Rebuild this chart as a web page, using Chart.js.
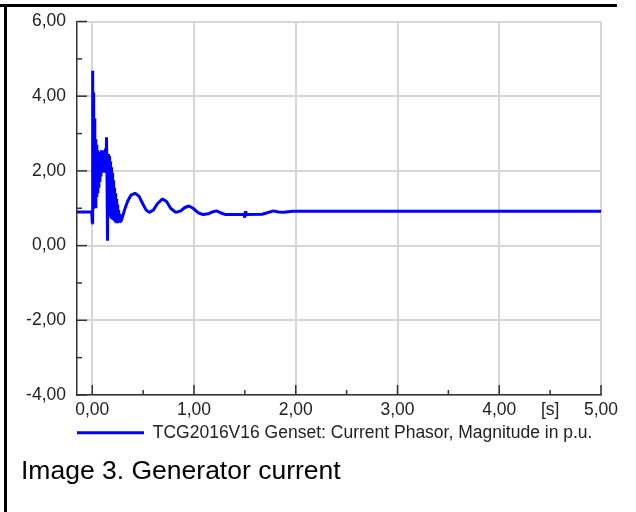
<!DOCTYPE html>
<html>
<head>
<meta charset="utf-8">
<title>Generator current</title>
<script src="https://cdn.jsdelivr.net/npm/chart.js@4.4.1/dist/chart.umd.min.js"></script>
<style>
    html, body { margin: 0; padding: 0; background: #fff; }
    #wrap { position: relative; width: 636px; height: 512px; overflow: hidden; }
    #chart { position: absolute; left: 0; top: 0; }
    .edge-top { position: absolute; left: 0; top: 4px; width: 617px; height: 3px; background: #000; }
    .edge-left { position: absolute; left: 4px; top: 4px; width: 3px; height: 508px; background: #000; }
    #caption {
        position: absolute; left: 21px; top: 455px;
        font-family: 'Liberation Sans', Arial, sans-serif;
        font-size: 26.5px; line-height: 30px; color: #000; white-space: nowrap;
    }
</style>
</head>
<body>
<div id="wrap">
    <canvas id="chart" width="636" height="512"></canvas>
    <div class="edge-top"></div>
    <div class="edge-left"></div>
    <div id="caption">Image 3. Generator current</div>
</div>
<script>
const seriesLabel = 'TCG2016V16 Genset: Current Phasor, Magnitude in p.u.';

// time in s
const times = [
    -0.15, -0.005, 0.000, 0.004, 0.008, 0.012, 0.016, 0.020, 0.025, 0.030,
    0.035, 0.040, 0.045, 0.050, 0.055, 0.060, 0.065, 0.070, 0.075, 0.080,
    0.085, 0.090, 0.095, 0.100, 0.105, 0.110, 0.115, 0.120, 0.125, 0.130,
    0.135, 0.140, 0.145, 0.150, 0.155, 0.160, 0.165, 0.170, 0.175, 0.180,
    0.185, 0.190, 0.195, 0.200, 0.205, 0.210, 0.215, 0.220, 0.225, 0.230,
    0.235, 0.240, 0.245, 0.250, 0.255, 0.260, 0.265, 0.270, 0.280, 0.290,
    0.300, 0.320, 0.350, 0.380, 0.420, 0.460, 0.500, 0.530, 0.560, 0.600,
    0.640, 0.690, 0.730, 0.770, 0.820, 0.870, 0.910, 0.950, 0.990, 1.040,
    1.090, 1.140, 1.180, 1.220, 1.260, 1.310, 1.450, 1.490, 1.500, 1.505,
    1.510, 1.670, 1.720, 1.780, 1.830, 1.880, 1.970, 5.000
];

// current magnitude in p.u.
const current = [
    0.90, 0.90, 0.60, 4.68, 1.00, 4.10, 1.20, 3.40, 1.10, 2.85,
    1.00, 2.70, 1.30, 2.55, 1.40, 2.50, 1.55, 2.45, 1.70, 2.50,
    1.85, 2.55, 2.00, 2.55, 1.95, 2.50, 2.10, 2.55, 2.15, 2.60,
    1.95, 2.90, 1.80, 0.13, 2.45, 0.80, 2.40, 0.75, 2.25, 0.75,
    2.10, 0.72, 1.95, 0.70, 1.75, 0.68, 1.55, 0.65, 1.40, 0.62,
    1.25, 0.60, 1.10, 0.60, 0.95, 0.62, 0.85, 0.64, 0.65, 0.70,
    0.80, 0.98, 1.20, 1.35, 1.40, 1.32, 1.10, 0.95, 0.89, 0.95,
    1.12, 1.25, 1.18, 1.00, 0.89, 0.93, 1.02, 1.06, 1.00, 0.88,
    0.83, 0.85, 0.90, 0.93, 0.88, 0.83, 0.83, 0.83, 0.75, 0.92,
    0.83, 0.84, 0.88, 0.93, 0.90, 0.89, 0.92, 0.92
];

const xTickValues = [0, 0.5, 1, 1.5, 2, 2.5, 3, 3.5, 4, 4.5, 5];
const xTickLabels = ['0,00', '', '1,00', '', '2,00', '', '3,00', '', '4,00', '[s]', '5,00'];
const yTickValues = [-4, -3, -2, -1, 0, 1, 2, 3, 4, 5, 6];
const yTickLabels = ['-4,00', '', '-2,00', '', '0,00', '', '2,00', '', '4,00', '', '6,00'];

const fontFamily = "'Liberation Sans', Arial, sans-serif";
const gridColor = '#d6d6d6';
const axisColor = '#333333';
const textColor = '#222222';

// small tick marks pointing into the plot
const innerTicks = {
    id: 'innerTicks',
    beforeDatasetsDraw(chart) {
        const { ctx, chartArea: { left, bottom }, scales: { x, y } } = chart;
        ctx.save();
        ctx.strokeStyle = axisColor;
        ctx.lineWidth = 1.5;
        xTickValues.forEach((v) => {
            const px = x.getPixelForValue(v);
            const len = Number.isInteger(v) ? 10 : 5;
            ctx.beginPath();
            ctx.moveTo(px, bottom);
            ctx.lineTo(px, bottom - len);
            ctx.stroke();
        });
        yTickValues.forEach((v) => {
            const py = y.getPixelForValue(v);
            const len = v % 2 === 0 ? 10 : 5;
            ctx.beginPath();
            ctx.moveTo(left, py);
            ctx.lineTo(left + len, py);
            ctx.stroke();
        });
        ctx.restore();
    }
};

const ctx = document.getElementById('chart').getContext('2d');
const myChart = new Chart(ctx, {
    type: 'line',
    data: {
        datasets: [{
            label: seriesLabel,
            data: times.map((t, i) => ({ x: t, y: current[i] })),
            borderColor: '#0000ff',
            backgroundColor: '#0000ff',
            borderWidth: 3,
            borderJoinStyle: 'bevel',
            pointRadius: 0,
            tension: 0,
            fill: false
        }]
    },
    options: {
        responsive: false,
        animation: false,
        devicePixelRatio: 1,
        layout: {
            padding: { top: 20, right: 35, left: 0, bottom: 60.5 }
        },
        scales: {
            x: {
                type: 'linear',
                min: -0.15,
                max: 5,
                afterBuildTicks: (scale) => {
                    scale.ticks = xTickValues.map(v => ({ value: v }));
                },
                afterFit: (scale) => {
                    scale.height = 29;
                },
                grid: {
                    color: (c) => (c.tick && Number.isInteger(c.tick.value)) ? gridColor : 'rgba(0,0,0,0)',
                    lineWidth: 2,
                    drawTicks: false
                },
                border: { color: axisColor, width: 1.5 },
                ticks: {
                    autoSkip: false,
                    maxRotation: 0,
                    minRotation: 0,
                    padding: 5,
                    color: textColor,
                    font: { family: fontFamily, size: 17.5 },
                    callback: (value, index) => xTickLabels[index]
                }
            },
            y: {
                type: 'linear',
                min: -4,
                max: 6,
                afterBuildTicks: (scale) => {
                    scale.ticks = yTickValues.map(v => ({ value: v }));
                },
                afterFit: (scale) => {
                    scale.width = 77;
                },
                grid: {
                    color: (c) => (c.tick && c.tick.value % 2 === 0) ? gridColor : 'rgba(0,0,0,0)',
                    lineWidth: 2,
                    drawTicks: false
                },
                border: { color: axisColor, width: 1.5 },
                ticks: {
                    autoSkip: false,
                    padding: 11,
                    color: textColor,
                    font: { family: fontFamily, size: 17.5 },
                    callback: (value, index) => yTickLabels[index]
                }
            }
        },
        plugins: {
            legend: {
                display: true,
                position: 'bottom',
                align: 'start',
                fullSize: false,
                labels: {
                    usePointStyle: true,
                    pointStyle: 'line',
                    pointStyleWidth: 67,
                    color: textColor,
                    padding: 0,
                    font: { family: fontFamily, size: 17.5 }
                }
            },
            tooltip: { enabled: false }
        }
    },
    plugins: [innerTicks]
});
</script>
</body>
</html>
